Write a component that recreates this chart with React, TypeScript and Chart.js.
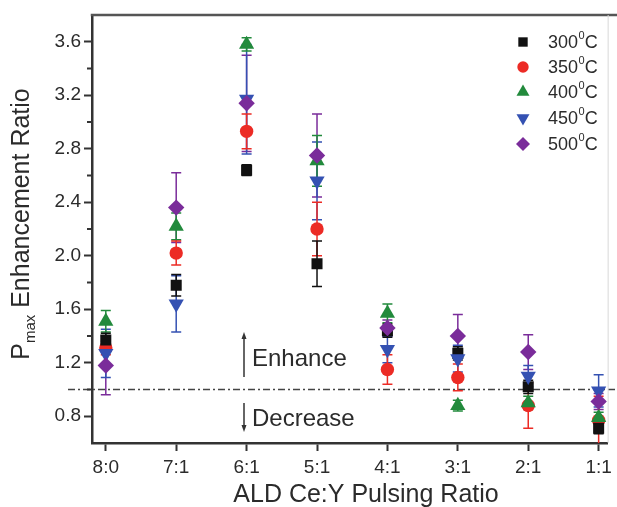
import React, { useEffect, useRef } from 'react';
import { Chart, registerables } from 'chart.js';

Chart.register(...registerables);

// ---------- data ----------
const categories = ['8:0', '7:1', '6:1', '5:1', '4:1', '3:1', '2:1', '1:1'];
const yMajorTicks = [0.8, 1.2, 1.6, 2.0, 2.4, 2.8, 3.2, 3.6];
const yMinorTicks = [1.0, 1.4, 1.8, 2.2, 2.6, 3.0, 3.4];
const seriesTemps = ['300', '350', '400', '450', '500'];

const val300 = [1.37, 1.78, 2.64, 1.94, 1.44, 1.27, 1.02, 0.71];
const val350 = [1.31, 2.02, 2.93, 2.2, 1.15, 1.09, 0.88, 0.77];
const val400 = [1.51, 2.22, 3.58, 2.71, 1.57, 0.88, 0.9, 0.79];
const val450 = [1.27, 1.64, 3.17, 2.56, 1.3, 1.23, 1.1, 0.99];
const val500 = [1.18, 2.36, 3.14, 2.75, 1.46, 1.4, 1.28, 0.91];

const err300 = [0.05, 0.08, 0.04, 0.17, 0.05, 0.05, 0.05, 0.04];
const err350 = [0.05, 0.09, 0.13, 0.2, 0.11, 0.1, 0.17, 0.18];
const err400 = [0.08, 0.1, 0.05, 0.19, 0.07, 0.04, 0.05, 0.04];
const err450 = [0.18, 0.21, 0.41, 0.29, 0.1, 0.1, 0.08, 0.12];
const err500 = [0.22, 0.26, 0.36, 0.31, 0.06, 0.16, 0.13, 0.06];

const refLineValue = 1.0;
const xTitle = 'ALD Ce:Y Pulsing Ratio';
const yTitleMain = 'P';
const yTitleSub = 'max';
const yTitleRest = ' Enhancement Ratio';
const enhanceText = 'Enhance';
const decreaseText = 'Decrease';

// ---------- styles ----------
const FONT = '"Liberation Sans", Arial, Helvetica, sans-serif';
const TEXT = '#2b2b2b';
const AXIS = '#333333';

type Series = {
  temp: string;
  values: number[];
  errors: number[];
  color: string;
  style: string;
  rotation: number;
  radius: number;
  order: number;
};

const series: Series[] = [
  { temp: seriesTemps[0], values: val300, errors: err300, color: '#111111', style: 'rect', rotation: 0, radius: 7.8, order: 2 },
  { temp: seriesTemps[1], values: val350, errors: err350, color: '#ec2b25', style: 'circle', rotation: 0, radius: 6.7, order: 4 },
  { temp: seriesTemps[2], values: val400, errors: err400, color: '#228a3c', style: 'triangle', rotation: 0, radius: 8.8, order: 3 },
  { temp: seriesTemps[3], values: val450, errors: err450, color: '#3451b2', style: 'triangle', rotation: 180, radius: 8.8, order: 1 },
  { temp: seriesTemps[4], values: val500, errors: err500, color: '#7a2c9a', style: 'rectRot', rotation: 0, radius: 8.2, order: 0 },
];

function drawMarker(ctx: CanvasRenderingContext2D, s: Series, x: number, y: number, r: number) {
  ctx.fillStyle = s.color;
  ctx.beginPath();
  if (s.style === 'rect') {
    const h = r * Math.SQRT1_2;
    ctx.rect(x - h, y - h, 2 * h, 2 * h);
  } else if (s.style === 'circle') {
    ctx.arc(x, y, r, 0, Math.PI * 2);
  } else if (s.style === 'triangle') {
    const rad0 = (s.rotation * Math.PI) / 180;
    for (let k = 0; k < 3; k++) {
      const a = rad0 + (k * 2 * Math.PI) / 3;
      const px = x + Math.sin(a) * r;
      const py = y - Math.cos(a) * r;
      if (k === 0) ctx.moveTo(px, py);
      else ctx.lineTo(px, py);
    }
    ctx.closePath();
  } else {
    ctx.moveTo(x - r, y);
    ctx.lineTo(x, y - r);
    ctx.lineTo(x + r, y);
    ctx.lineTo(x, y + r);
    ctx.closePath();
  }
  ctx.fill();
}

const overlayPlugin = {
  id: 'overlay',
  beforeDatasetsDraw(chart: any) {
    const { ctx, chartArea: ca, scales } = chart;
    const xs = scales.x;
    const ys = scales.y;
    // dash-dot reference line
    ctx.save();
    ctx.strokeStyle = '#444';
    ctx.lineWidth = 1.5;
    ctx.setLineDash([7, 3, 2, 3]);
    const yr = ys.getPixelForValue(refLineValue);
    ctx.beginPath();
    ctx.moveTo(68, yr);
    ctx.lineTo(617, yr);
    ctx.stroke();
    ctx.restore();

    // error bars
    ctx.save();
    ctx.beginPath();
    ctx.rect(ca.left, ca.top, ca.right - ca.left, ca.bottom - ca.top);
    ctx.clip();
    ctx.lineWidth = 1.5;
    [...series].reverse().forEach((s) => {
      ctx.strokeStyle = s.color;
      s.values.forEach((v, i) => {
        const e = s.errors[i];
        const px = xs.getPixelForValue(i);
        const top = ys.getPixelForValue(v + e);
        const bot = ys.getPixelForValue(v - e);
        ctx.beginPath();
        ctx.moveTo(px, top);
        ctx.lineTo(px, bot);
        ctx.moveTo(px - 5, top);
        ctx.lineTo(px + 5, top);
        ctx.moveTo(px - 5, bot);
        ctx.lineTo(px + 5, bot);
        ctx.stroke();
      });
    });
    ctx.restore();
  },
  afterDraw(chart: any) {
    const { ctx, chartArea: ca, scales } = chart;
    const ys = scales.y;
    ctx.save();
    // top border
    ctx.strokeStyle = '#555';
    ctx.lineWidth = 2.5;
    ctx.beginPath();
    ctx.moveTo(ca.left - 1.25, ca.top);
    ctx.lineTo(617, ca.top);
    ctx.stroke();
    // faint right border
    ctx.strokeStyle = '#d8d8d8';
    ctx.lineWidth = 1;
    ctx.beginPath();
    ctx.moveTo(ca.right + 0.5, ca.top);
    ctx.lineTo(ca.right + 0.5, ca.bottom);
    ctx.stroke();
    // minor y ticks
    ctx.strokeStyle = AXIS;
    ctx.lineWidth = 2;
    yMinorTicks.forEach((v) => {
      const py = ys.getPixelForValue(v);
      ctx.beginPath();
      ctx.moveTo(ca.left - 5, py);
      ctx.lineTo(ca.left, py);
      ctx.stroke();
    });

    // legend
    const legendRows = [42, 67, 92, 118, 144];
    series.forEach((s, k) => {
      const ry = legendRows[k];
      drawMarker(ctx, s, 523, ry, s.radius * 0.85);
      ctx.fillStyle = TEXT;
      ctx.textBaseline = 'middle';
      ctx.textAlign = 'left';
      ctx.font = `18px ${FONT}`;
      let tx = 548;
      ctx.fillText(s.temp, tx, ry + 1);
      tx += ctx.measureText(s.temp).width;
      ctx.font = `11px ${FONT}`;
      ctx.fillText('0', tx + 0.5, ry - 6);
      tx += ctx.measureText('0').width + 0.5;
      ctx.font = `18px ${FONT}`;
      ctx.fillText('C', tx, ry + 1);
    });

    // Enhance / Decrease annotations
    ctx.strokeStyle = '#333';
    ctx.fillStyle = '#333';
    ctx.lineWidth = 1.5;
    const ax = 244;
    ctx.beginPath();
    ctx.moveTo(ax, 336);
    ctx.lineTo(ax, 377);
    ctx.stroke();
    ctx.beginPath();
    ctx.moveTo(ax, 332);
    ctx.lineTo(ax - 2.5, 339);
    ctx.lineTo(ax + 2.5, 339);
    ctx.closePath();
    ctx.fill();
    ctx.beginPath();
    ctx.moveTo(ax, 403);
    ctx.lineTo(ax, 428);
    ctx.stroke();
    ctx.beginPath();
    ctx.moveTo(ax, 432);
    ctx.lineTo(ax - 2.5, 425);
    ctx.lineTo(ax + 2.5, 425);
    ctx.closePath();
    ctx.fill();
    ctx.fillStyle = TEXT;
    ctx.font = `24px ${FONT}`;
    ctx.textAlign = 'left';
    ctx.textBaseline = 'middle';
    ctx.fillText(enhanceText, 252, 359);
    ctx.fillText(decreaseText, 252, 419);

    // x title
    ctx.font = `25px ${FONT}`;
    ctx.textAlign = 'center';
    ctx.textBaseline = 'middle';
    ctx.fillText(xTitle, 366, 495);

    // y title (rotated)
    ctx.save();
    ctx.translate(22, 224);
    ctx.rotate(-Math.PI / 2);
    ctx.textAlign = 'left';
    ctx.textBaseline = 'middle';
    ctx.font = `25px ${FONT}`;
    const wP = ctx.measureText(yTitleMain).width;
    const wR = ctx.measureText(yTitleRest).width;
    ctx.font = `15px ${FONT}`;
    const wS = ctx.measureText(yTitleSub).width;
    let sx = -(wP + wS + wR) / 2;
    ctx.font = `25px ${FONT}`;
    ctx.fillText(yTitleMain, sx, 0);
    sx += wP;
    ctx.font = `15px ${FONT}`;
    ctx.fillText(yTitleSub, sx, 9);
    sx += wS;
    ctx.font = `25px ${FONT}`;
    ctx.fillText(yTitleRest, sx, 0);
    ctx.restore();

    ctx.restore();
  },
};

export default function App() {
  const ref = useRef<HTMLCanvasElement>(null);
  useEffect(() => {
    document.body.style.margin = '0';
    const canvas = ref.current;
    if (!canvas) return;
    const chart = new Chart(canvas, {
      type: 'scatter',
      data: {
        datasets: series.map((s) => ({
          label: `${s.temp} C`,
          data: s.values.map((v, i) => ({ x: i, y: v })),
          pointStyle: s.style as any,
          pointRadius: s.radius,
          pointHoverRadius: s.radius,
          rotation: s.rotation,
          backgroundColor: s.color,
          borderColor: s.color,
          borderWidth: 0,
          order: s.order,
        })),
      },
      options: {
        animation: false,
        responsive: false,
        maintainAspectRatio: false,
        layout: { padding: { top: 15, right: 3, left: 0, bottom: 0 } },
        plugins: { legend: { display: false }, tooltip: { enabled: false } },
        scales: {
          x: {
            type: 'linear',
            min: -0.196,
            max: 7.128,
            afterBuildTicks: (s: any) => {
              s.ticks = categories.map((_, i) => ({ value: i }));
            },
            afterFit: (s: any) => {
              s.height = 64;
            },
            ticks: {
              callback: (v: any) => categories[Math.round(Number(v))] ?? '',
              font: { family: FONT, size: 19 },
              color: TEXT,
              padding: 5,
              maxRotation: 0,
              autoSkip: false,
            },
            grid: { drawOnChartArea: false, drawTicks: true, tickLength: 8, tickWidth: 2, tickColor: AXIS },
            border: { color: AXIS, width: 2.5 },
          },
          y: {
            type: 'linear',
            min: 0.6,
            max: 3.8,
            afterBuildTicks: (s: any) => {
              s.ticks = yMajorTicks.map((v) => ({ value: v }));
            },
            afterFit: (s: any) => {
              s.width = 92;
            },
            ticks: {
              callback: (v: any) => Number(v).toFixed(1),
              font: { family: FONT, size: 19 },
              color: TEXT,
              padding: 3,
            },
            grid: { drawOnChartArea: false, drawTicks: true, tickLength: 8, tickWidth: 2, tickColor: AXIS },
            border: { color: AXIS, width: 2.5 },
          },
        },
      },
      plugins: [overlayPlugin],
    });
    return () => chart.destroy();
  }, []);
  return <canvas ref={ref} width={617} height={507} style={{ display: 'block' }} />;
}
